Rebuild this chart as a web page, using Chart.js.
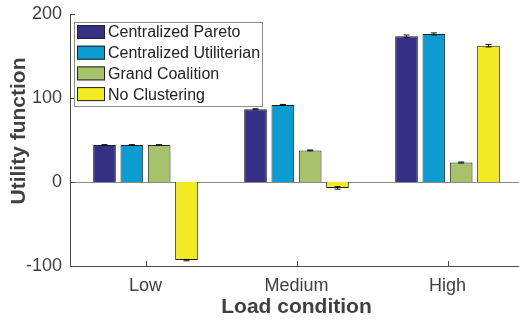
<!DOCTYPE html>
<html>

<head>
    <meta charset="utf-8">
    <title>Utility function</title>
    <style>
        html, body { margin: 0; padding: 0; overflow: hidden; background: #fff; }
        #wrap { width: 523px; height: 324px; }
    </style>
</head>

<body>
    <div id="wrap"><canvas id="myChart" width="523" height="324"></canvas></div>

    <script src="https://cdn.jsdelivr.net/npm/chart.js@4/dist/chart.umd.min.js"></script>
    <script type="text/javascript">
        // data
        const loads = ["Low", "Medium", "High"];
        const seriesNames = ["Centralized Pareto", "Centralized Utiliterian", "Grand Coalition", "No Clustering"];
        const pareto = [44, 86.6, 173.5];
        const utilitarian = [44, 91.7, 176.3];
        const grandCoalition = [44, 37.6, 23.2];
        const noClustering = [-93, -7, 162.3];
        const paretoErr = [0.5, 0.6, 1.5];
        const utilitarianErr = [0.5, 0.6, 1.2];
        const grandErr = [0.5, 0.5, 0.6];
        const noClustErr = [0.8, 1.5, 1.5];
        const yTicks = [-100, 0, 100, 200];

        const colors = ["#352f85", "#0c9cd1", "#a6c26a", "#f2ea22"];
        const values = [pareto, utilitarian, grandCoalition, noClustering];
        const errors = [paretoErr, utilitarianErr, grandErr, noClustErr];
        const textColor = "#404040";
        const axisColor = "#4a4a4a";
        const font = "'Liberation Sans', Arial, Helvetica, sans-serif";

        const extras = {
            id: 'extras',
            beforeDatasetsDraw(chart) {
                const c = chart.ctx, a = chart.chartArea, y = chart.scales.y;
                // bar baseline at zero
                c.save();
                c.strokeStyle = "#8a8a8a";
                c.lineWidth = 1;
                const y0 = Math.round(y.getPixelForValue(0)) + 0.5;
                c.beginPath();
                c.moveTo(a.left, y0);
                c.lineTo(a.right, y0);
                c.stroke();
                c.restore();
            },
            afterDatasetsDraw(chart) {
                const c = chart.ctx, a = chart.chartArea, y = chart.scales.y, x = chart.scales.x;
                c.save();
                // error bars
                c.strokeStyle = "#111";
                c.lineWidth = 1;
                chart.data.datasets.forEach((ds, di) => {
                    const meta = chart.getDatasetMeta(di);
                    meta.data.forEach((bar, i) => {
                        const v = ds.data[i], e = errors[di][i];
                        const yt = y.getPixelForValue(v + e), yb = y.getPixelForValue(v - e);
                        c.beginPath();
                        c.moveTo(bar.x, yt); c.lineTo(bar.x, yb);
                        c.moveTo(bar.x - 3, yt); c.lineTo(bar.x + 3, yt);
                        c.moveTo(bar.x - 3, yb); c.lineTo(bar.x + 3, yb);
                        c.stroke();
                    });
                });
                // inward tick marks
                c.strokeStyle = axisColor;
                yTicks.forEach(t => {
                    const py = Math.round(y.getPixelForValue(t)) + 0.5;
                    c.beginPath();
                    c.moveTo(a.left, py); c.lineTo(a.left + 5, py);
                    c.stroke();
                });
                loads.forEach((l, i) => {
                    const px = Math.round(x.getPixelForValue(i)) + 0.5;
                    c.beginPath();
                    c.moveTo(px, a.bottom); c.lineTo(px, a.bottom - 5);
                    c.stroke();
                });
                // legend box
                const lx = 74, ly = 22, lw = 188, lh = 84;
                c.fillStyle = "#fff";
                c.fillRect(lx, ly, lw, lh);
                c.strokeStyle = "#8c8c8c";
                c.strokeRect(lx + 0.5, ly + 0.5, lw, lh);
                c.font = "16px " + font;
                c.textBaseline = "middle";
                seriesNames.forEach((n, i) => {
                    const cy = 32 + i * 20.7;
                    c.fillStyle = colors[i];
                    c.fillRect(77, cy - 7, 28, 14);
                    c.strokeStyle = "#222";
                    c.strokeRect(77.5, cy - 6.5, 27, 13);
                    c.fillStyle = "#222";
                    c.fillText(n, 108, cy + 1);
                });
                // y axis title
                c.translate(19, 131);
                c.rotate(-Math.PI / 2);
                c.font = "bold 21px " + font;
                c.fillStyle = textColor;
                c.textAlign = "center";
                c.fillText("Utility function", 0, 0);
                c.restore();
            }
        };

        var ctx = document.getElementById('myChart').getContext('2d');
        var chart = new Chart(ctx, {
            type: 'bar',
            data: {
                labels: loads,
                datasets: seriesNames.map((n, i) => ({
                    label: n,
                    data: values[i],
                    backgroundColor: colors[i],
                    borderColor: "#222",
                    borderWidth: 1,
                    categoryPercentage: 0.724,
                    barPercentage: 0.83
                }))
            },
            options: {
                responsive: false,
                animation: false,
                layout: { padding: { top: 14, right: 0, left: 0, bottom: 0 } },
                plugins: { legend: { display: false }, tooltip: { enabled: false } },
                scales: {
                    x: {
                        grid: { display: false, drawTicks: false },
                        border: { display: true, color: axisColor },
                        ticks: { color: textColor, font: { size: 18, family: font }, padding: 9 },
                        title: {
                            display: true, text: "Load condition", color: textColor,
                            font: { size: 21, weight: 'bold', family: font },
                            padding: { top: 0, bottom: 4 }
                        },
                        afterFit(s) { s.height = 58; s.paddingLeft = 0; s.paddingRight = 0; }
                    },
                    y: {
                        min: -100, max: 200,
                        grid: { display: false, drawTicks: false },
                        border: { display: true, color: axisColor },
                        ticks: { stepSize: 100, color: textColor, font: { size: 18, family: font }, padding: 8 },
                        afterFit(s) { s.width = 70; s.paddingTop = 0; s.paddingBottom = 0; }
                    }
                }
            },
            plugins: [extras]
        });
    </script>
</body>

</html>
